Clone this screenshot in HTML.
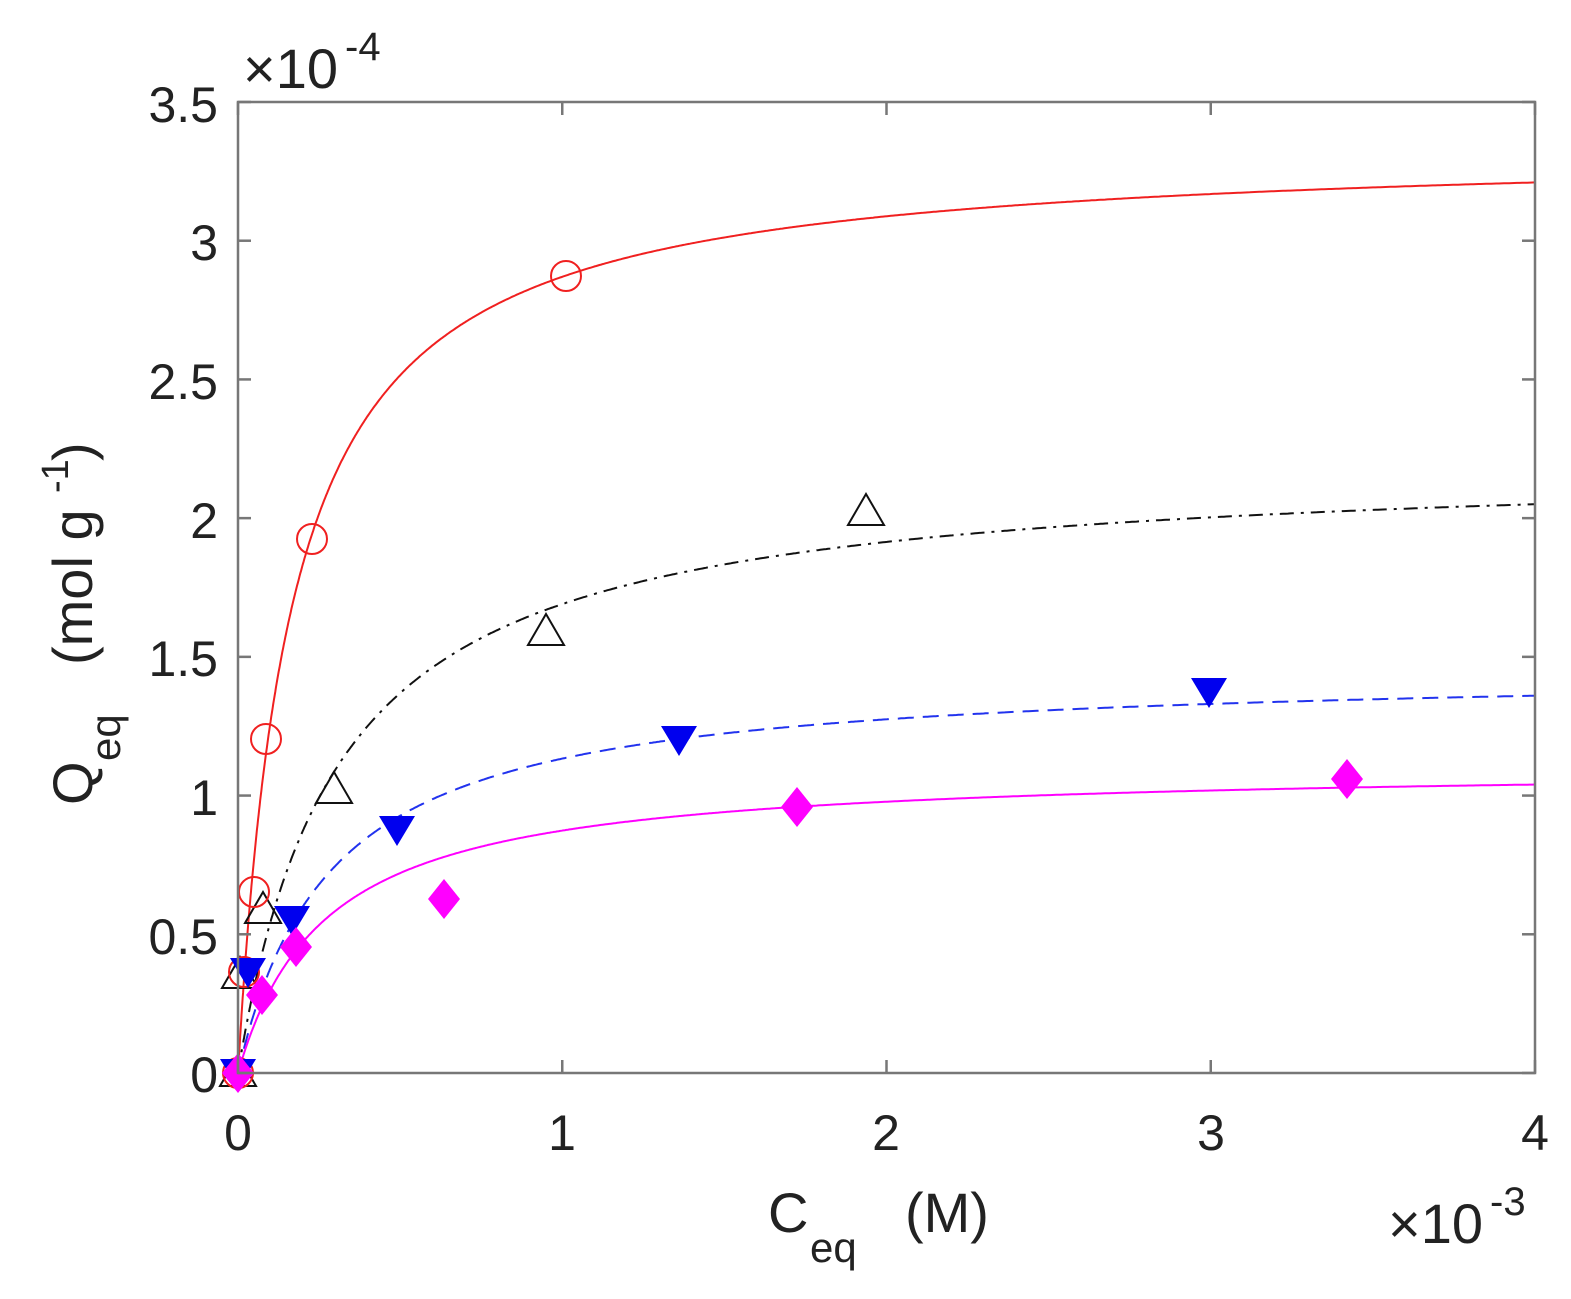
<!DOCTYPE html>
<html><head><meta charset="utf-8"><style>
html,body{margin:0;padding:0;background:#fff;}
svg{display:block;font-family:"Liberation Sans",Arial,sans-serif;}
</style></head><body>
<svg id="s" width="1571" height="1299" viewBox="0 0 1571 1299" xmlns="http://www.w3.org/2000/svg">
<rect x="0" y="0" width="1571" height="1299" fill="#fff"/>
<g id="curves"></g>
<g id="marks"></g>
<rect x="238" y="102" width="1297" height="971" fill="none" stroke="#777" stroke-width="2.5"/>
<g id="ticks" stroke="#777" stroke-width="2.5"></g>
<g font-size="50" fill="#222">
<text x="218" y="122" text-anchor="end">3.5</text>
<text x="218" y="260" text-anchor="end">3</text>
<text x="218" y="399" text-anchor="end">2.5</text>
<text x="218" y="538" text-anchor="end">2</text>
<text x="218" y="676" text-anchor="end">1.5</text>
<text x="218" y="815" text-anchor="end">1</text>
<text x="218" y="954" text-anchor="end">0.5</text>
<text x="218" y="1092" text-anchor="end">0</text>
<text x="238" y="1150" text-anchor="middle">0</text>
<text x="562" y="1150" text-anchor="middle">1</text>
<text x="886" y="1150" text-anchor="middle">2</text>
<text x="1211" y="1150" text-anchor="middle">3</text>
<text x="1535" y="1150" text-anchor="middle">4</text>
<text x="243" y="88" font-size="56">×10</text>
<text x="345" y="60" font-size="40">-4</text>
<text x="1388" y="1243" font-size="56">×10</text>
<text x="1490" y="1215" font-size="40">-3</text>
<text x="768" y="1232" font-size="56">C</text>
<text x="810" y="1262" font-size="42">eq</text>
<text x="905" y="1232" font-size="56">(M)</text>
<g transform="translate(92,805) rotate(-90)">
<text x="0" y="0" font-size="56">Q</text>
<text x="44" y="28" font-size="42">eq</text>
<text x="140" y="0" font-size="56">(mol g</text>
<text x="312" y="-24" font-size="38">-1</text>
<text x="344" y="0" font-size="56">)</text>
</g>
</g>
</svg>
<script>
var X=function(c){return 238+c*324.25;},Y=function(q){return 1073-q*277.43;};
var ns="http://www.w3.org/2000/svg";
function el(t,a,p){var e=document.createElementNS(ns,t);for(var k in a)e.setAttribute(k,a[k]);document.getElementById(p).appendChild(e);return e;}
var curves=[[3.342,6.08,"#f02020",""],[2.207,3.27,"#111","14 7 3 7"],[1.457,3.5,"#2233ee","16 9"],[1.11,3.7,"#ff00ff",""]];
curves.forEach(function(c){var d="";for(var i=0;i<=800;i++){var x=4*Math.pow(i/800,1.6);var q=c[0]*c[1]*x/(1+c[1]*x);d+=(i?"L":"M")+X(x).toFixed(1)+" "+Y(q).toFixed(1);}
var a={d:d,fill:"none",stroke:c[2],"stroke-width":2};if(c[3])a["stroke-dasharray"]=c[3];el("path",a,"curves");});
for(var i=0;i<=7;i++){var y=Y(i*0.5);el("line",{x1:238,y1:y,x2:251,y2:y},"ticks");el("line",{x1:1535,y1:y,x2:1522,y2:y},"ticks");}
for(var i=0;i<=4;i++){var x=X(i);el("line",{x1:x,y1:1073,x2:x,y2:1060},"ticks");el("line",{x1:x,y1:102,x2:x,y2:115},"ticks");}
[[238,1073],[240,975],[263,910],[334,790],[546,632],[866,512]].forEach(function(p){el("path",{d:"M"+p[0]+" "+(p[1]-18)+"L"+(p[0]+18)+" "+(p[1]+13)+"L"+(p[0]-18)+" "+(p[1]+13)+"Z",fill:"none",stroke:"#111","stroke-width":2},"marks");});
[[238,1073],[244,972],[254,892],[266,739],[312,539],[566,276]].forEach(function(p){el("circle",{cx:p[0],cy:p[1],r:15,fill:"none",stroke:"#f02020","stroke-width":2},"marks");});
[[238,1073],[248,972],[292,920],[397,830],[679,740],[1209,692]].forEach(function(p){el("path",{d:"M"+(p[0]-18)+" "+(p[1]-14)+"L"+(p[0]+18)+" "+(p[1]-14)+"L"+p[0]+" "+(p[1]+16)+"Z",fill:"#0000ee"},"marks");});
[[238,1073],[262,995],[296,947],[444,899],[797,807],[1347,779]].forEach(function(p){el("path",{d:"M"+p[0]+" "+(p[1]-20)+"L"+(p[0]+16)+" "+p[1]+"L"+p[0]+" "+(p[1]+20)+"L"+(p[0]-16)+" "+p[1]+"Z",fill:"#ff00ff"},"marks");});
</script>
</body></html>
